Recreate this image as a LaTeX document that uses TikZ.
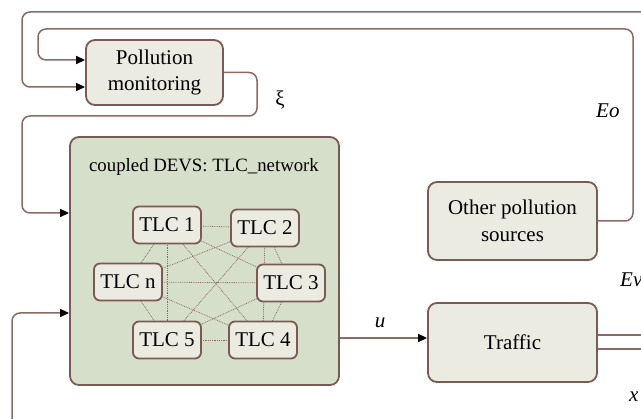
\documentclass[tikz,border=0pt]{standalone}
\usepackage{fontspec}
\setmainfont{Liberation Serif}
\usetikzlibrary{arrows.meta,calc}
\definecolor{brd}{HTML}{7A5A53}
\definecolor{ln}{HTML}{8A6A63}
\definecolor{boxfill}{HTML}{EBEBE1}
\definecolor{netfill}{HTML}{D6DFCA}
\pgfdeclarelayer{bgzero}
\pgfdeclarelayer{bgone}
\pgfsetlayers{bgzero,bgone,main}
\begin{document}
\begin{tikzpicture}[x=1pt,y=-1pt,
  blk/.style={draw=brd,line width=1.8pt,fill=boxfill,rounded corners=9pt,align=center,inner sep=0pt,font=\fontsize{21}{26.5}\selectfont},
  tlc/.style={draw=brd,line width=1.8pt,fill=boxfill,rounded corners=6pt,minimum width=68pt,minimum height=37pt,inner sep=0pt,font=\fontsize{21}{24}\selectfont},
  conn/.style={draw=ln,line width=1.5pt,rounded corners=8pt},
  arr/.style={-{Triangle[length=9pt,width=8pt,color=black]}},
  mesh/.style={draw=ln,line width=0.8pt,densely dotted},
  lbl/.style={font=\fontsize{21}{24}\selectfont\itshape,inner sep=0pt}]
\useasboundingbox (0,0) rectangle (641,419);
\node[blk,minimum width=137pt,minimum height=65pt] (pm) at (154.5,72.5) {Pollution\\monitoring};
\begin{pgfonlayer}{bgzero}
\node[draw=brd,line width=1.8pt,fill=netfill,rounded corners=9pt,minimum width=269pt,minimum height=248pt] (net) at (204.5,261) {};
\end{pgfonlayer}
\node[font=\fontsize{18.8}{22}\selectfont,inner sep=0pt,anchor=base] (title) at (204,172) {coupled DEVS: TLC\_network};
\node[tlc] (t1) at (167,225) {TLC 1};
\node[tlc] (t2) at (265,228) {TLC 2};
\node[tlc] (tn) at (128,282) {TLC n};
\node[tlc] (t3) at (291,283) {TLC 3};
\node[tlc] (t5) at (167,340) {TLC 5};
\node[tlc] (t4) at (263,340) {TLC 4};
\begin{pgfonlayer}{bgone}
\foreach \a/\b in {t1/t2,t1/tn,t1/t3,t1/t4,t1/t5,t2/tn,t2/t3,t2/t4,t2/t5,tn/t3,tn/t4,tn/t5,t3/t4,t3/t5,t4/t5}
  \draw[mesh] (\a.center) -- (\b.center);
\end{pgfonlayer}
\node[blk,minimum width=169pt,minimum height=78pt] (ops) at (512.5,221) {Other pollution\\sources};
\node[blk,minimum width=169pt,minimum height=79pt] (trf) at (512.5,342.5) {Traffic};
\coordinate (topin) at (650,12);
\coordinate (botin) at (12,430);
\coordinate (out1) at (650,335);
\coordinate (out2) at (650,349);
\draw[conn,arr] (topin) -- (22,12) -- (22,87) -- ($(pm.west)+(0,14.5)$);
\draw[conn,arr] (ops.east) -- (633,221) -- (633,29) -- (38,29) -- (38,60) -- ($(pm.west)+(0,-12.5)$);
\draw[conn,arr] (pm.east) -- (257,72.5) -- (257,116) -- (22,116) -- (22,213) -- ($(net.west)+(0,-48)$);
\draw[conn,arr] (botin) -- (12,313) -- ($(net.west)+(0,52)$);
\draw[conn,arr] ($(net.east)+(0,77)$) -- ($(trf.west)+(0,-4.5)$);
\draw[conn] ($(trf.east)+(0,-7.5)$) -- (out1);
\draw[conn] ($(trf.east)+(0,6.5)$) -- (out2);
\node[lbl,anchor=base west] (eo) at (596,118) {Eo};
\node[font=\fontsize{21}{24}\selectfont,inner sep=0pt] (xi) at (280,100) {ξ};
\node[lbl,anchor=base] (u) at (380,328) {u};
\node[lbl,anchor=base west] (ev) at (620,287) {Ev};
\node[lbl,anchor=base west] (xl) at (629,402) {x};
\end{tikzpicture}
\end{document}
